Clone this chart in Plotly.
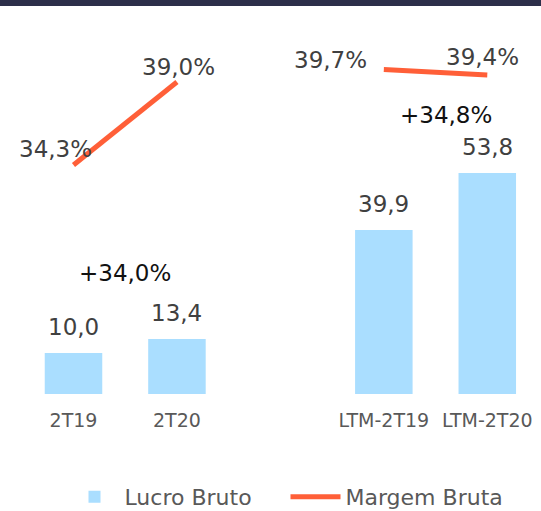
import plotly.graph_objects as go

categories = ["2T19", "2T20", " ", "LTM-2T19", "LTM-2T20"]
lucro_bruto = [10.0, 13.4, None, 39.9, 53.8]
margem_bruta = [34.3, 39.0, None, 39.7, 39.4]
lucro_labels = ["10,0", "13,4", None, "39,9", "53,8"]
margem_labels = ["34,3%", "39,0%", None, "39,7%", "39,4%"]
growth_labels = ["+34,0%", "+34,8%"]

FONT = "DejaVu Sans"
BAR_COLOR = "#aadeff"
LINE_COLOR = "#ff5f38"
VAL_COLOR = "#404040"

fig = go.Figure()
fig.add_trace(go.Bar(
    x=categories, y=lucro_bruto, name="Lucro Bruto",
    marker=dict(color=BAR_COLOR, line=dict(width=0)),
    yaxis="y",
))
fig.add_trace(go.Scatter(
    x=categories, y=margem_bruta, name="Margem Bruta",
    mode="lines", line=dict(color=LINE_COLOR, width=5),
    connectgaps=False, yaxis="y2",
))

annotations = []
for c, v, t in zip(categories, lucro_bruto, lucro_labels):
    if v is None:
        continue
    annotations.append(dict(x=c, y=v, xref="x", yref="y", text=t, showarrow=False,
                            yanchor="middle", yshift=26,
                            font=dict(family=FONT, size=23, color=VAL_COLOR)))
shifts = [(-18, 16), (2, 15), None, (-53, 10), (-5, 18)]
for c, v, t, s in zip(categories, margem_bruta, margem_labels, shifts):
    if v is None:
        continue
    annotations.append(dict(x=c, y=v, xref="x", yref="y2", text=t, showarrow=False,
                            xshift=s[0], yshift=s[1], yanchor="middle",
                            font=dict(family=FONT, size=23, color=VAL_COLOR)))
annotations.append(dict(x=0.5, y=29.4, xref="x", yref="y", text=growth_labels[0],
                        showarrow=False, yanchor="middle",
                        font=dict(family=FONT, size=23, color="#111111")))
annotations.append(dict(x=3.5, y=67.9, xref="x", yref="y", text=growth_labels[1],
                        showarrow=False, yanchor="middle", xshift=10,
                        font=dict(family=FONT, size=23, color="#111111")))

fig.update_layout(
    width=541, height=511,
    margin=dict(l=17, r=2, t=20, b=117, autoexpand=False),
    paper_bgcolor="white", plot_bgcolor="white",
    bargap=0.444,
    showlegend=True,
    legend=dict(orientation="h", x=0.5 + 15 / 541, xanchor="center", xref="container",
                y=1 - 497 / 511, yanchor="middle", yref="container",
                font=dict(family=FONT, size=22, color="#595959"), itemwidth=50,
                entrywidth=156, traceorder="normal"),
    xaxis=dict(type="category", showgrid=False, zeroline=False, showline=False,
               ticks="outside", ticklen=9, tickcolor="rgba(0,0,0,0)",
               tickfont=dict(family=FONT, size=19, color="#595959")),
    yaxis=dict(range=[0, 91.0], visible=False, showgrid=False),
    yaxis2=dict(range=[21.33, 42.51], overlaying="y", visible=False, showgrid=False),
    annotations=annotations,
    shapes=[dict(type="rect", xref="paper", yref="paper", x0=-0.1, x1=1.1,
                 y0=1 + 14 / 374, y1=1 + 30 / 374, fillcolor="#2c2f4a",
                 line=dict(width=0), layer="above")],
)

fig.write_html("out.html", config={"displayModeBar": False},
               post_script="document.body.style.margin='0';document.body.style.padding='0';")
